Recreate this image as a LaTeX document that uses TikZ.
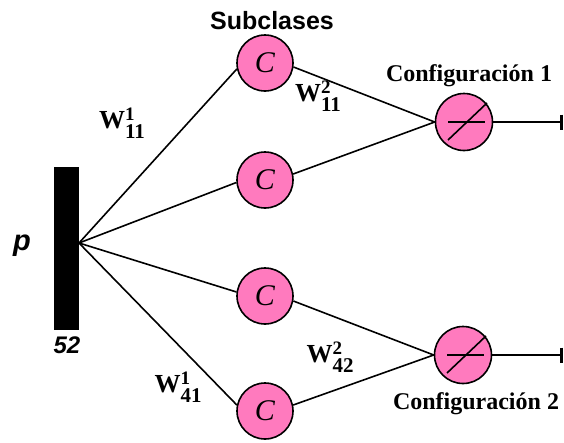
\documentclass[tikz,border=0pt]{standalone}
\usepackage{fontspec}
\setmainfont{Liberation Serif}
\newfontfamily\arialf{Liberation Sans}
\usetikzlibrary{arrows.meta}
\definecolor{pinkc}{RGB}{255,122,190}
\tikzset{
  cnode/.style={circle, draw=black, line width=1.6pt, fill=pinkc, minimum size=56pt, inner sep=0pt,
    font=\fontsize{30}{30}\selectfont\itshape},
  fnode/.style={circle, draw=black, line width=1.6pt, fill=pinkc, minimum size=57pt, inner sep=0pt},
  conn/.style={line width=1.6pt},
  outarr/.style={line width=2.6pt, -{Bar[width=15pt,line width=2.6pt]}},
  wlab/.style={font=\fontsize{26}{26}\selectfont\bfseries, inner sep=0pt},
  conflab/.style={font=\fontsize{24}{24}\selectfont\bfseries},
}
\newcommand{\wl}[2]{W\rlap{\raisebox{8pt}{\fontsize{19}{19}\selectfont #1}}\raisebox{-10pt}{\fontsize{21}{21}\selectfont #2}}
\begin{document}
\begin{tikzpicture}[x=1pt,y=-1pt]
\useasboundingbox (0,0) rectangle (564,442);
% bar
\node[fill=black, minimum width=25pt, minimum height=163pt, inner sep=0pt, anchor=north west] (bar) at (54,167) {};
\coordinate (fan) at (79,243);
\node[font=\fontsize{29}{29}\selectfont\arialf\bfseries\itshape] (p) at (22,246) {p};
\node[font=\fontsize{24}{24}\selectfont\arialf\bfseries\itshape] (n52) at (67,345) {52};
% subclass nodes
\node[cnode] (c1) at (265,63) {C};
\node[cnode] (c2) at (265,180) {C};
\node[cnode] (c3) at (265,296) {C};
\node[cnode] (c4) at (265,411) {C};
% configuration nodes
\node[fnode] (f1) at (464,122) {};
\node[fnode] (f2) at (463,355) {};
\foreach \f in {f1,f2}{
  \draw[line width=1.6pt] ([xshift=-16pt]\f.center) -- ([xshift=21pt]\f.center);
  \draw[line width=1.6pt] ([xshift=-16pt,yshift=-18pt]\f.center) -- ([xshift=23pt,yshift=19pt]\f.center);
}
% connectors
\draw[conn] (fan) -- (c1.192);
\draw[conn] (fan) -- (c2.185);
\draw[conn] (fan) -- (c3.172);
\draw[conn] (fan) -- (c4.168);
\draw[conn] (c1.352) -- (f1.west);
\draw[conn] (c2.12) -- (f1.west);
\draw[conn] (c3.350) -- (f2.west);
\draw[conn] (c4.12) -- (f2.west);
\coordinate (o1) at (563,122);
\coordinate (o2) at (563,355);
\draw[outarr] (f1.east) -- (o1);
\draw[outarr] (f2.east) -- (o2);
% labels
\node[font=\fontsize{25}{25}\selectfont\arialf\bfseries] (sub) at (272,21) {Subclases};
\node[conflab] (cf1) at (469,76) {Configuración 1};
\node[conflab] (cf2) at (476,404) {Configuración 2};
\node[wlab] (w1) at (122,123) {\wl{1}{11}};
\node[wlab] (w2) at (318,96) {\wl{2}{11}};
\node[wlab] (w3) at (330,357) {\wl{2}{42}};
\node[wlab] (w4) at (178,387) {\wl{1}{41}};
\end{tikzpicture}
\end{document}
